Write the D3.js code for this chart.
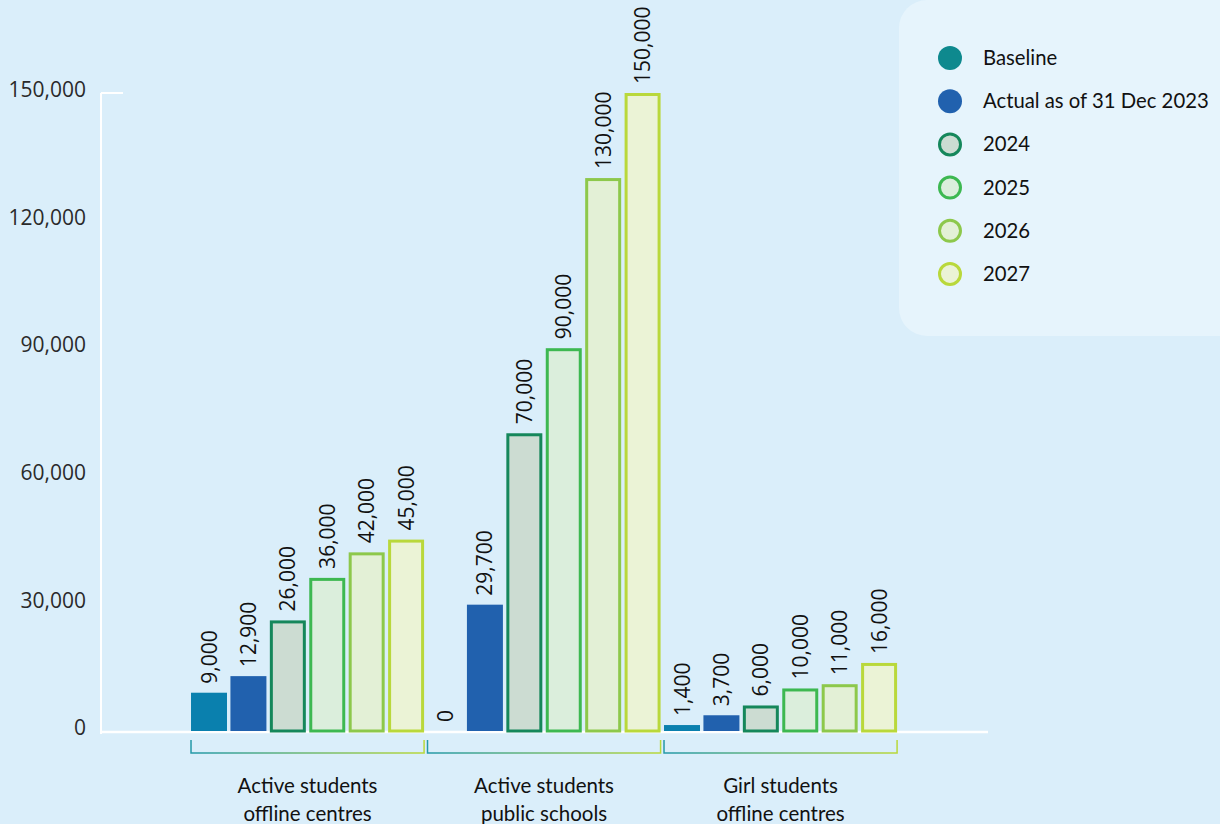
<!DOCTYPE html>
<html>
<head>
<meta charset="utf-8">
<script src="https://cdn.jsdelivr.net/npm/d3@7"></script>
<style>
  html, body { margin: 0; padding: 0; background: #daeefa; }
  svg { display: block; }
</style>
</head>
<body>
<svg id="chart" width="1220" height="824"></svg>
<script>
// Categories (each label split over two lines)
const categories = ["Active students offline centres", "Active students public schools", "Girl students offline centres"];
const categoryLines = [["Active students", "offline centres"], ["Active students", "public schools"], ["Girl students", "offline centres"]];

// Series
const seriesNames = ["Baseline", "Actual as of 31 Dec 2023", "2024", "2025", "2026", "2027"];
const baseline   = [9000, 0, 1400];
const actual2023 = [12900, 29700, 3700];
const target2024 = [26000, 70000, 6000];
const target2025 = [36000, 90000, 10000];
const target2026 = [42000, 130000, 11000];
const target2027 = [45000, 150000, 16000];
const seriesValues = [baseline, actual2023, target2024, target2025, target2026, target2027];

// Y axis ticks
const yTicks = [0, 30000, 60000, 90000, 120000, 150000];

// Styles per series
const barFill    = ["#0a80ae", "#2161ae", "#ccdcd2", "#dbeedc", "#e3f0d6", "#ebf3d6"];
const legendFill = ["#0e898e", "#2161ae", "#ccdcd2", "#dbeedc", "#e3f0d6", "#ebf3d6"];
const strokeCol  = [null, null, "#15875b", "#3db851", "#8dc84b", "#b9d83b"];

const svg = d3.select("#chart");
const W = 1220, H = 824;

svg.append("rect").attr("width", W).attr("height", H).attr("fill", "#daeefa");

// Legend panel
svg.append("rect")
  .attr("x", 899).attr("y", 0).attr("width", 360).attr("height", 336)
  .attr("rx", 28).attr("fill", "#e6f4fc");

const y = d3.scaleLinear().domain([0, 150000]).range([731, 93]);
const x0 = d3.scaleBand().domain(categories).range([189.3, 898.8]).paddingInner(0).paddingOuter(0);
const x1 = d3.scaleBand().domain(seriesNames).range([0, x0.bandwidth()]).paddingInner(0.087).paddingOuter(0.0435);

// Axis lines
svg.append("line").attr("x1", 101).attr("x2", 101).attr("y1", y(150000)).attr("y2", y(0) + 3)
  .attr("stroke", "#fff").attr("stroke-width", 2);
svg.append("line").attr("x1", 101).attr("x2", 123).attr("y1", y(150000)).attr("y2", y(150000))
  .attr("stroke", "#fff").attr("stroke-width", 2);
svg.append("line").attr("x1", 101).attr("x2", 988).attr("y1", y(0) + 1).attr("y2", y(0) + 1)
  .attr("stroke", "#fff").attr("stroke-width", 2.5);

// Y tick labels
const yAxis = d3.axisLeft(y).tickValues(yTicks).tickSize(0).tickPadding(0)
  .tickFormat(d3.format(","));
const gy = svg.append("g").attr("transform", "translate(86,-3)").call(yAxis);
gy.select(".domain").remove();
gy.selectAll("text")
  .attr("font-family", "'Open Sans', sans-serif").attr("font-size", 21)
  .attr("fill", "#2a2a2a");

// Bars
const groups = svg.append("g").selectAll("g")
  .data(categories).join("g")
  .attr("transform", d => `translate(${x0(d)},0)`);

groups.each(function(cat, ci) {
  const g = d3.select(this);
  seriesNames.forEach((s, si) => {
    const v = seriesValues[si][ci];
    const bx = x1(s), bw = x1.bandwidth();
    if (v > 0) {
      if (strokeCol[si]) {
        g.append("rect")
          .attr("x", bx + 1.5).attr("y", y(v) + 1.5)
          .attr("width", bw - 3).attr("height", y(0) - y(v) - 1.5)
          .attr("fill", barFill[si]).attr("stroke", strokeCol[si]).attr("stroke-width", 3);
      } else {
        g.append("rect")
          .attr("x", bx).attr("y", y(v))
          .attr("width", bw).attr("height", y(0) - y(v))
          .attr("fill", barFill[si]);
      }
    }
    const cx = bx + bw / 2, ty = y(v) - 9;
    g.append("text")
      .attr("transform", `translate(${cx + 7.5},${ty}) rotate(-90)`)
      .attr("font-family", "'Open Sans', sans-serif").attr("font-size", 21)
      .attr("fill", "#111")
      .text(d3.format(",")(v));
  });
});

// Brackets under groups with teal-to-green gradient
const defs = svg.append("defs");
const grad = defs.append("linearGradient").attr("id", "bracketGrad")
  .attr("x1", "0%").attr("x2", "100%").attr("y1", "0%").attr("y2", "0%");
grad.append("stop").attr("offset", "0%").attr("stop-color", "#2499a8");
grad.append("stop").attr("offset", "100%").attr("stop-color", "#b9d83b");

categories.forEach(cat => {
  const gx0 = x0(cat) + x1(seriesNames[0]);
  const gx1 = x0(cat) + x1(seriesNames[5]) + x1.bandwidth();
  svg.append("path")
    .attr("d", `M${gx0},740 L${gx0},753 L${gx1},753 L${gx1},740`)
    .attr("fill", "none").attr("stroke", "url(#bracketGrad)").attr("stroke-width", 1.5);
});

// Category labels
categories.forEach((cat, i) => {
  const cx = x0(cat) + x0.bandwidth() / 2;
  const t = svg.append("text")
    .attr("text-anchor", "middle")
    .attr("font-family", "Lato, sans-serif").attr("font-size", 20.5).attr("fill", "#111");
  categoryLines[i].forEach((line, li) => {
    t.append("tspan").attr("x", cx).attr("y", 793 + li * 28).text(line);
  });
});

// Legend
const legendY = d3.scalePoint().domain(seriesNames).range([58, 274]);
const lg = svg.append("g").selectAll("g").data(seriesNames).join("g")
  .attr("transform", d => `translate(950,${legendY(d)})`);
lg.append("circle")
  .attr("r", (d, i) => strokeCol[i] ? 10.5 : 12)
  .attr("fill", (d, i) => legendFill[i])
  .attr("stroke", (d, i) => strokeCol[i] || "none")
  .attr("stroke-width", 3);
lg.append("text")
  .attr("x", 33).attr("y", 7)
  .attr("font-family", "Lato, sans-serif").attr("font-size", 20.3).attr("fill", "#111")
  .text(d => d);
</script>
</body>
</html>
